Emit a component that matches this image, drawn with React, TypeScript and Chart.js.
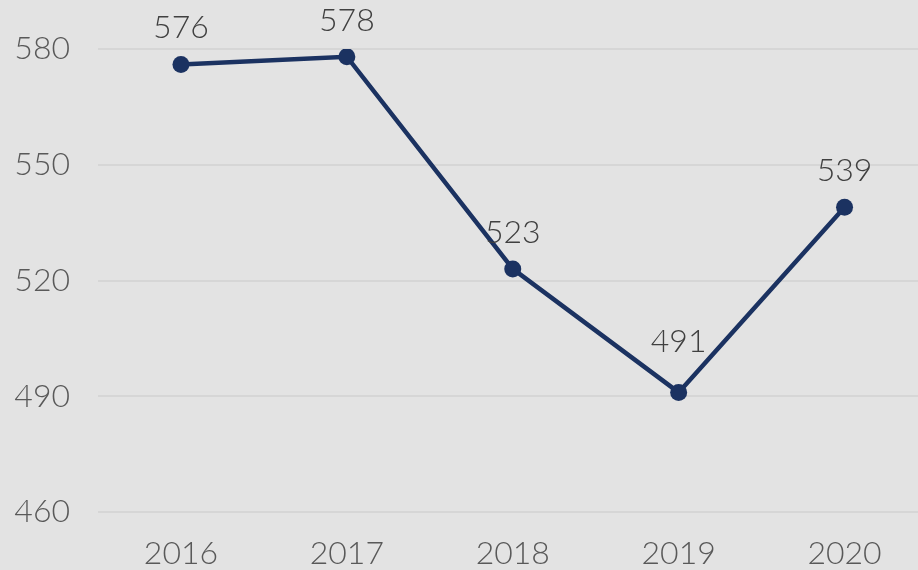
import React, { useEffect, useRef } from "react";
import { Chart, registerables } from "chart.js";

Chart.register(...registerables);

const categories = ["2016", "2017", "2018", "2019", "2020"];
const values = [576, 578, 523, 491, 539];
const yMin = 460;
const yMax = 580;
const yStep = 30;

const FONT = "Lato, 'Noto Sans', sans-serif";

const labelPlugin = {
  id: "pointLabels",
  afterDatasetsDraw(chart: any) {
    const ctx = chart.ctx;
    const meta = chart.getDatasetMeta(0);
    ctx.save();
    ctx.font = `300 32px ${FONT}`;
    ctx.fillStyle = "#404040";
    ctx.textAlign = "center";
    ctx.textBaseline = "alphabetic";
    meta.data.forEach((pt: any, i: number) => {
      const prev = values[i - 1];
      const next = values[i + 1];
      const isValley = prev !== undefined && next !== undefined && prev > values[i] && next > values[i];
      const off = isValley ? 40 : 26;
      ctx.fillText(String(values[i]), pt.x, pt.y - off);
    });
    ctx.restore();
  },
};

export default function App() {
  const ref = useRef<HTMLCanvasElement | null>(null);
  useEffect(() => {
    if (!ref.current) return;
    const chart = new Chart(ref.current, {
      type: "line",
      data: {
        labels: categories,
        datasets: [
          {
            data: values,
            borderColor: "#1b3261",
            backgroundColor: "#1b3261",
            borderWidth: 4.5,
            pointRadius: 8.5,
            pointHoverRadius: 8.5,
            pointBackgroundColor: "#1b3261",
            pointBorderWidth: 0,
            tension: 0,
          },
        ],
      },
      options: {
        animation: false,
        responsive: false,
        maintainAspectRatio: false,
        layout: { padding: { top: 49, bottom: 0, left: 0, right: 0 } },
        plugins: { legend: { display: false }, tooltip: { enabled: false } },
        scales: {
          x: {
            type: "category",
            offset: true,
            grid: { display: false, drawTicks: false },
            border: { display: false },
            ticks: {
              color: "#595959",
              font: { family: FONT, size: 32, weight: 300 },
              padding: 22,
            },
            afterFit(scale: any) {
              scale.height = 58;
            },
          },
          y: {
            min: yMin,
            max: yMax,
            grid: { color: "#d6d6d6", lineWidth: 2, drawTicks: false },
            border: { display: false },
            ticks: {
              stepSize: yStep,
              color: "#595959",
              font: { family: FONT, size: 32, weight: 300 },
              padding: 28,
            },
            afterFit(scale: any) {
              scale.width = 98;
            },
          },
        },
      },
      plugins: [labelPlugin],
    });
    return () => chart.destroy();
  }, []);
  return (
    <div
      style={{
        position: "fixed",
        left: 0,
        top: 0,
        width: 918,
        height: 570,
        overflow: "hidden",
        background: "#e3e3e3",
      }}
    >
      <canvas ref={ref} width={936} height={570} style={{ display: "block" }} />
    </div>
  );
}
